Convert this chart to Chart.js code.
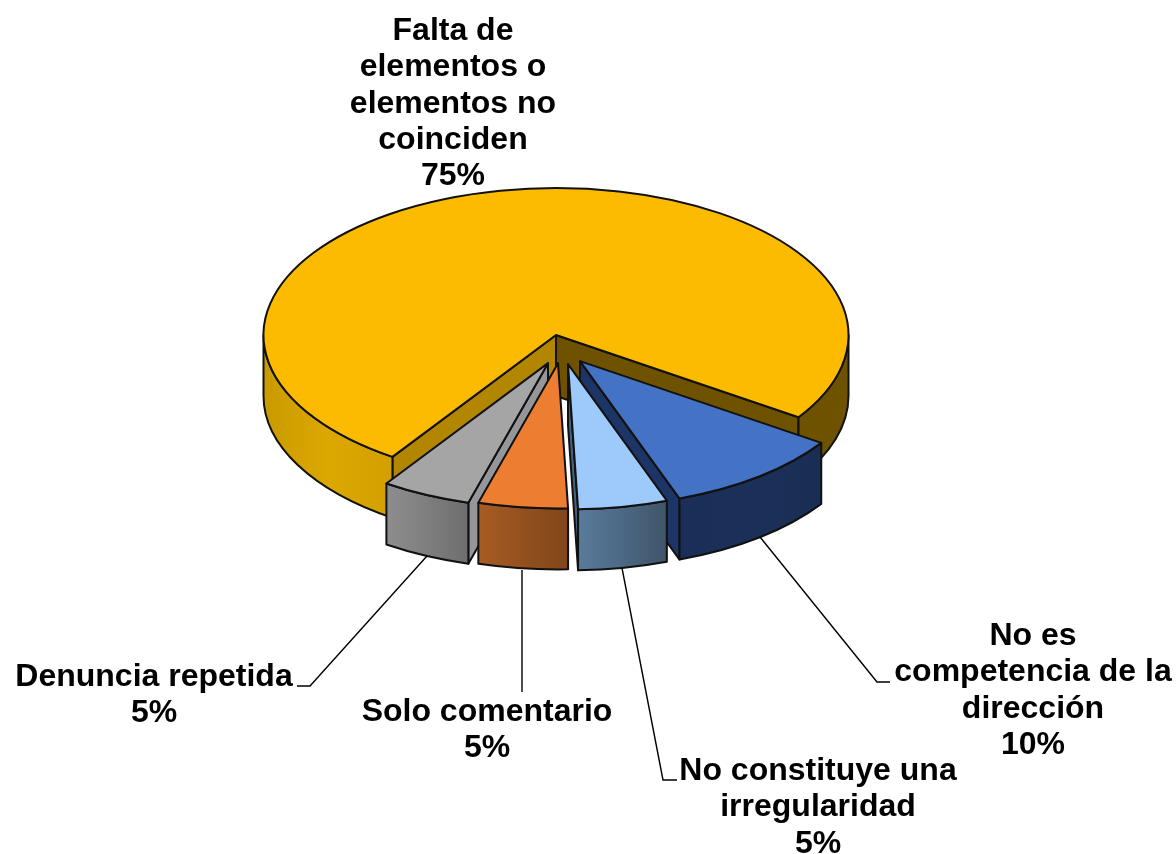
<!DOCTYPE html>
<html>
<head>
<meta charset="utf-8">
<style>html,body{margin:0;padding:0;background:#fff}canvas{display:block}</style>
<script src="https://cdn.jsdelivr.net/npm/chart.js@4/dist/chart.umd.min.js"></script>
</head>
<body>
<canvas id="c" width="1176" height="854"></canvas>
<script>
const categories = ['Falta de elementos o elementos no coinciden','No es competencia de la dirección','No constituye una irregularidad','Solo comentario','Denuncia repetida'];
const values = [75, 10, 5, 5, 5];
const topColors = ['#FDBB00','#4472C4','#9DC9FB','#ED7D31','#A5A5A5'];

const labelLines = [
  ['Falta de','elementos o','elementos no','coinciden'],
  ['No es','competencia de la','dirección'],
  ['No constituye una','irregularidad'],
  ['Solo comentario'],
  ['Denuncia repetida']
];
const labelCenterX = [453, 1033, 818, 487, 154];
const labelFirstY = [31, 636, 771, 712, 677];
const leaders = [
  null,
  [[760,537],[877,682],[890,682]],
  [[622,568],[663,780],[677,780]],
  [[522,570],[522,692]],
  [[427,556],[310,686],[297,686]]
];

// pie look
const squash = 0.5026, depth = 61, rotationDeg = 214;
const baseRadius = 292.5;
const sliceRadius = [292.5, 291, 289, 289, 289];
const explodeX = [0, 24, 12, 2, -8];
const explodeY = [0, 52, 58, 56, 56];
const wallOrder = [0, 1, 2, 4, 3];
const wallOuter = [
  ['#C99A00','#DCA700','#D3A000'],
  ['#1A2F58','#1B3059','#1A2D54'],
  ['#5A7B9C','#4C6884','#3F5468'],
  ['#A85C22','#93501E','#80461A'],
  ['#8E8E8E','#7E7E7E','#6E6E6E']
];
const wallOuterRight = '#6E5200';
const wallStartEdge = ['#B38600','#1B3059','#46617C','#9A5220','#94969A'];
const wallEndEdge = ['#6E5200','#1D3566','#46617C','#9A5220','#94969A'];
const lineColor = '#111111';

function screenY(chart, y){
  const cy = (chart.chartArea.top + chart.chartArea.bottom) / 2;
  return cy + (y - cy) * squash;
}
function wallGradient(ctx, x0, x1, cols){
  const g = ctx.createLinearGradient(x0, 0, x1, 0);
  cols.forEach((c, i) => g.addColorStop(i / (cols.length - 1), c));
  return g;
}
function paint(ctx, fill){
  ctx.fillStyle = fill;
  ctx.fill();
  ctx.strokeStyle = lineColor;
  ctx.lineWidth = 2;
  ctx.lineJoin = 'round';
  ctx.stroke();
}
function outerWall(ctx, x, y, r, a0, a1, fill){
  ctx.beginPath();
  ctx.ellipse(x, y, r, r * squash, 0, a0, a1);
  ctx.ellipse(x, y + depth, r, r * squash, 0, a1, a0, true);
  ctx.closePath();
  paint(ctx, fill);
}
function edgeWall(ctx, x, y, r, a, fill){
  const ex = x + Math.cos(a) * r, ey = y + Math.sin(a) * r * squash;
  ctx.beginPath();
  ctx.moveTo(x, y);
  ctx.lineTo(ex, ey);
  ctx.lineTo(ex, ey + depth);
  ctx.lineTo(x, y + depth);
  ctx.closePath();
  paint(ctx, fill);
}

const pie3d = {
  id: 'pie3d',
  afterDatasetsUpdate(chart){
    chart.getDatasetMeta(0).data.forEach((el, i) => {
      el.x += explodeX[i];
      el.y += explodeY[i];
      el.outerRadius = sliceRadius[i];
    });
  },
  beforeDatasetsDraw(chart){
    const ctx = chart.ctx, arcs = chart.getDatasetMeta(0).data;
    ctx.save();
    wallOrder.forEach(i => {
      const el = arcs[i], x = el.x, y = screenY(chart, el.y), r = el.outerRadius;
      const s = el.startAngle, e = el.endAngle;
      // radial faces that turn toward the viewer
      if (Math.cos(e) > 0 && Math.sin(e) > 0) edgeWall(ctx, x, y, r, e, wallEndEdge[i]);
      if (Math.cos(s) < 0 && Math.sin(s) > 0) edgeWall(ctx, x, y, r, s, wallStartEdge[i]);
      // rim, only the part on the near half of the ellipse
      const tau = Math.PI * 2;
      for (const k of [0, 1]) {
        const a0 = Math.max(s, k * tau), a1 = Math.min(e, k * tau + Math.PI);
        if (a1 <= a0) continue;
        const xa = x + Math.cos(a0) * r, xb = x + Math.cos(a1) * r;
        const isRightPiece = i === 0 && k === 1;
        const fill = isRightPiece ? wallOuterRight : wallGradient(ctx, Math.min(xa, xb), Math.max(xa, xb), wallOuter[i]);
        outerWall(ctx, x, y, r, a0, a1, fill);
      }
    });
    ctx.restore();
    const cy = (chart.chartArea.top + chart.chartArea.bottom) / 2;
    ctx.save();
    ctx.translate(0, cy * (1 - squash));
    ctx.scale(1, squash);
  },
  afterDatasetsDraw(chart){
    const ctx = chart.ctx, arcs = chart.getDatasetMeta(0).data;
    ctx.restore();
    ctx.save();
    // outlines of the top faces, stroked unsquashed
    arcs.forEach(el => {
      const x = el.x, y = screenY(chart, el.y), r = el.outerRadius;
      ctx.beginPath();
      ctx.moveTo(x, y);
      ctx.ellipse(x, y, r, r * squash, 0, el.startAngle, el.endAngle);
      ctx.closePath();
      ctx.strokeStyle = lineColor;
      ctx.lineWidth = 2;
      ctx.lineJoin = 'round';
      ctx.stroke();
    });
    // leader lines
    ctx.strokeStyle = '#000';
    ctx.lineWidth = 1.4;
    leaders.forEach(pts => {
      if (!pts) return;
      ctx.beginPath();
      pts.forEach((p, j) => j ? ctx.lineTo(p[0], p[1]) : ctx.moveTo(p[0], p[1]));
      ctx.stroke();
    });
    // labels
    const total = values.reduce((a, b) => a + b, 0);
    ctx.fillStyle = '#000';
    ctx.font = 'bold 32px "Liberation Sans", Arial, sans-serif';
    ctx.textAlign = 'center';
    ctx.textBaseline = 'middle';
    labelLines.forEach((lines, i) => {
      const all = lines.concat([Math.round(values[i] / total * 100) + '%']);
      all.forEach((t, j) => ctx.fillText(t, labelCenterX[i], labelFirstY[i] + j * 36.4));
    });
    ctx.restore();
  }
};

new Chart(document.getElementById('c'), {
  type: 'pie',
  data: {
    labels: categories,
    datasets: [{ data: values, backgroundColor: topColors, borderWidth: 0, clip: false }]
  },
  options: {
    responsive: false,
    animation: false,
    rotation: rotationDeg,
    radius: baseRadius,
    layout: { padding: { right: 64, bottom: 184 } },
    plugins: { legend: { display: false }, tooltip: { enabled: false } }
  },
  plugins: [pie3d]
});
</script>
</body>
</html>
